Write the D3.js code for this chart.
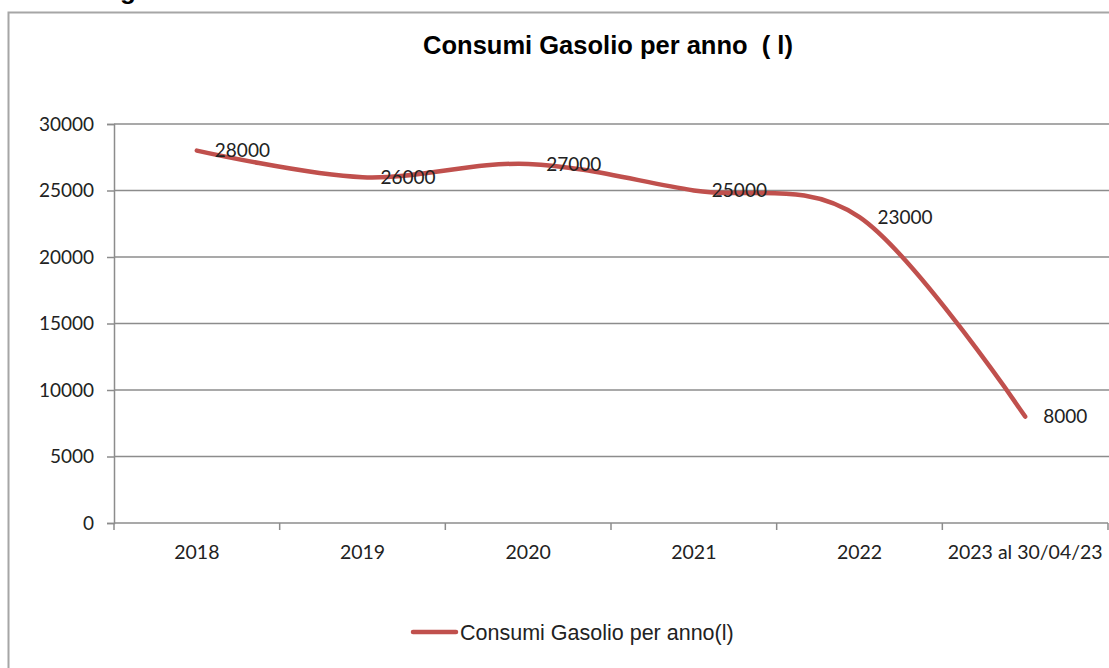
<!DOCTYPE html>
<html>
<head>
<meta charset="utf-8">
<script src="https://cdn.jsdelivr.net/npm/d3@7"></script>
<style>
  body { margin: 0; background: #fff; }
  svg { display: block; }
</style>
</head>
<body>
<div id="chart"></div>
<script>
// data
const categories = ["2018", "2019", "2020", "2021", "2022", "2023 al 30/04/23"];
const consumi = [28000, 26000, 27000, 25000, 23000, 8000];
const yTicks = [0, 5000, 10000, 15000, 20000, 25000, 30000];
const seriesName = "Consumi Gasolio per anno(l)";
const titleText = "Consumi Gasolio per anno  ( l)";

const width = 1109, height = 668;
const svg = d3.select("#chart").append("svg")
  .attr("width", width)
  .attr("height", height);

const plot = { left: 114, right: 1108, top: 124, bottom: 523 };
const gray = "#8c8c8c";
const red = "#c0504d";
const labelFont = "Lato, sans-serif";

// outer frame (cut by the window on right/bottom)
svg.append("rect")
  .attr("x", 8.5).attr("y", 12.5)
  .attr("width", 1200).attr("height", 800)
  .attr("fill", "none")
  .attr("stroke", "#a6a6a6")
  .attr("stroke-width", 2);

// cut off glyph from the heading above the chart
svg.append("text")
  .attr("x", 120).attr("y", -1.5)
  .attr("font-family", "Liberation Sans, Arial, sans-serif")
  .attr("font-weight", "bold")
  .attr("font-size", 26)
  .text("g");

// title
svg.append("text")
  .attr("x", 608).attr("y", 54)
  .attr("text-anchor", "middle")
  .attr("font-family", "Liberation Sans, Arial, sans-serif")
  .attr("font-weight", "bold")
  .attr("font-size", 25.5)
  .style("white-space", "pre")
  .text(titleText);

const x = d3.scaleBand()
  .domain(categories)
  .range([plot.left, plot.right]);

const y = d3.scaleLinear()
  .domain([0, 30000])
  .range([plot.bottom, plot.top]);

// gridlines
svg.append("g")
  .selectAll("line")
  .data(yTicks.filter(d => d > 0))
  .enter().append("line")
  .attr("x1", plot.left).attr("x2", width)
  .attr("y1", d => y(d)).attr("y2", d => y(d))
  .attr("stroke", gray)
  .attr("stroke-width", 1.5);

// y axis
const yAxis = svg.append("g")
  .attr("transform", `translate(${plot.left},0)`)
  .call(d3.axisLeft(y).tickValues(yTicks).tickSize(7).tickPadding(13).tickFormat(d3.format("d")));
yAxis.select(".domain").attr("stroke", gray).attr("stroke-width", 1.5);
yAxis.selectAll(".tick line").attr("stroke", gray).attr("stroke-width", 1.5);
yAxis.selectAll("text")
  .attr("font-family", labelFont)
  .attr("font-size", 19)
  .attr("fill", "#222");

// x axis, ticks at band boundaries
const xAxisG = svg.append("g");
xAxisG.append("line")
  .attr("x1", plot.left).attr("x2", plot.right)
  .attr("y1", plot.bottom).attr("y2", plot.bottom)
  .attr("stroke", gray).attr("stroke-width", 1.5);
const bounds = categories.map(c => x(c)).concat([x(categories[categories.length - 1]) + x.bandwidth()]);
xAxisG.selectAll(".xt")
  .data(bounds)
  .enter().append("line")
  .attr("x1", d => d).attr("x2", d => d)
  .attr("y1", plot.bottom).attr("y2", plot.bottom + 7)
  .attr("stroke", gray).attr("stroke-width", 1.5);
xAxisG.selectAll(".xl")
  .data(categories)
  .enter().append("text")
  .attr("x", d => x(d) + x.bandwidth() / 2)
  .attr("y", 552)
  .attr("dy", "0.35em")
  .attr("text-anchor", "middle")
  .attr("font-family", labelFont)
  .attr("font-size", 19.5)
  .attr("fill", "#222")
  .text(d => d);

// smoothed line
const pts = categories.map((c, i) => [x(c) + x.bandwidth() / 2, y(consumi[i])]);
svg.append("path")
  .datum(pts)
  .attr("d", d3.line().curve(d3.curveCatmullRom.alpha(0)))
  .attr("fill", "none")
  .attr("stroke", red)
  .attr("stroke-width", 4.5)
  .attr("stroke-linecap", "round");

// data labels
svg.append("g")
  .selectAll("text")
  .data(categories)
  .enter().append("text")
  .attr("x", (d, i) => pts[i][0] + 18)
  .attr("y", (d, i) => pts[i][1])
  .attr("dy", "0.35em")
  .attr("font-family", labelFont)
  .attr("font-size", 19)
  .attr("fill", "#222")
  .text((d, i) => consumi[i]);

// legend
svg.append("line")
  .attr("x1", 413).attr("x2", 456)
  .attr("y1", 632).attr("y2", 632)
  .attr("stroke", red)
  .attr("stroke-width", 4.5)
  .attr("stroke-linecap", "round");
svg.append("text")
  .attr("x", 460).attr("y", 632)
  .attr("dy", "0.35em")
  .attr("font-family", "Liberation Sans, Arial, sans-serif")
  .attr("font-size", 21.5)
  .attr("fill", "#222")
  .text(seriesName);
</script>
</body>
</html>
